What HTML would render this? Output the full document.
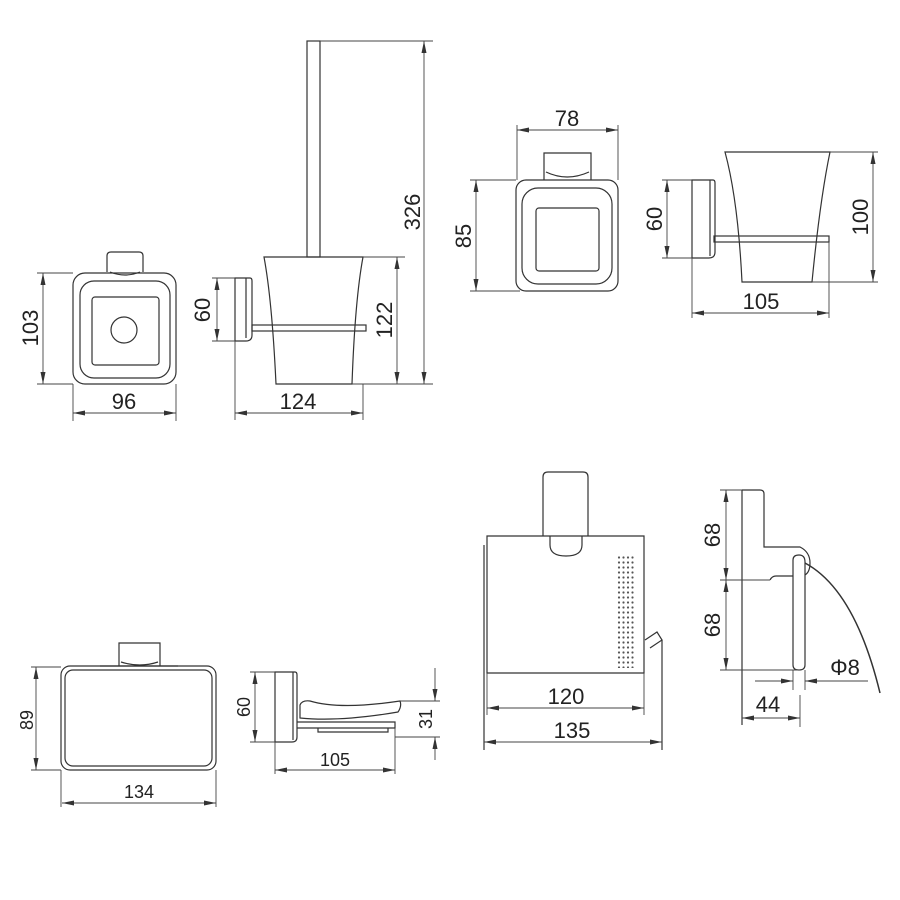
<!DOCTYPE html>
<html><head><meta charset="utf-8"><style>
html,body{margin:0;padding:0;background:#fff;}
svg{display:block;}
text{font-family:"Liberation Sans",sans-serif;fill:#222;}
</style></head><body>
<svg width="900" height="900" viewBox="0 0 900 900" xmlns="http://www.w3.org/2000/svg">
<defs>
<marker id="a" viewBox="0 0 12 6" refX="12" refY="3" markerWidth="12" markerHeight="6" markerUnits="userSpaceOnUse" orient="auto-start-reverse"><path d="M0,0.5 L12,3 L0,5.5 z" fill="#333"/></marker>
<pattern id="dots" x="617" y="555" width="4.5" height="5" patternUnits="userSpaceOnUse"><circle cx="2" cy="2.5" r="1.1" fill="#555"/></pattern>
</defs>
<g fill="none" stroke="#333" stroke-width="1.2">
<path d="M107,272 V256 Q107,252 111,252 H139 Q143,252 143,256 V272"/>
<path d="M110,272 Q125,278 140,272"/>
<rect x="73" y="273" width="103" height="111" rx="12"/>
<rect x="80" y="281" width="90" height="97" rx="14"/>
<rect x="92" y="297" width="67" height="68" rx="3"/>
<circle cx="124" cy="330" r="13"/>
<rect x="307" y="41" width="13" height="216"/>
<path d="M264,257 H363 Q355,300 352,384 H276 Q272,300 264,257 Z"/>
<rect x="252" y="325" width="114" height="6"/>
<path d="M235,278 H250 Q252,278 252,281 V335 Q252,341 246,341 H235 Z"/>
<line x1="246" y1="278" x2="246" y2="338"/>
</g>
<g fill="none" stroke="#444" stroke-width="0.9">
<line x1="37" y1="273" x2="73" y2="273"/><line x1="37" y1="384" x2="73" y2="384"/>
<line x1="43" y1="273" x2="43" y2="384" marker-start="url(#a)" marker-end="url(#a)"/>
<line x1="73" y1="384" x2="73" y2="421"/><line x1="176" y1="384" x2="176" y2="421"/>
<line x1="73" y1="413" x2="176" y2="413" marker-start="url(#a)" marker-end="url(#a)"/>
<line x1="212" y1="278" x2="235" y2="278"/><line x1="212" y1="341" x2="235" y2="341"/>
<line x1="217" y1="278" x2="217" y2="341" marker-start="url(#a)" marker-end="url(#a)"/>
<line x1="235" y1="341" x2="235" y2="420"/><line x1="363" y1="384" x2="363" y2="420"/>
<line x1="235" y1="413" x2="363" y2="413" marker-start="url(#a)" marker-end="url(#a)"/>
<line x1="363" y1="257" x2="405" y2="257"/><line x1="320" y1="41" x2="433" y2="41"/>
<line x1="352" y1="384" x2="433" y2="384"/>
<line x1="397" y1="257" x2="397" y2="384" marker-start="url(#a)" marker-end="url(#a)"/>
<line x1="424" y1="41" x2="424" y2="384" marker-start="url(#a)" marker-end="url(#a)"/>
</g>
<g font-size="22" text-anchor="middle">
<text x="124" y="409">96</text>
<text x="298" y="409">124</text>
<text transform="translate(38,328) rotate(-90)">103</text>
<text transform="translate(210,310) rotate(-90)">60</text>
<text transform="translate(392,320) rotate(-90)">122</text>
<text transform="translate(420,212) rotate(-90)">326</text>
</g>

<g fill="none" stroke="#333" stroke-width="1.2">
<path d="M544,180 V153 H591 V180"/>
<path d="M546,172 Q567,182 589,172"/>
<rect x="516" y="180" width="102" height="111" rx="10"/>
<rect x="522" y="188" width="90" height="96" rx="16"/>
<rect x="536" y="208" width="63" height="63" rx="3"/>
<path d="M725,152 H830 Q820,200 812,282 H742 Q738,200 725,152 Z"/>
<rect x="714" y="236" width="115" height="6"/>
<path d="M692,180 H713 Q715,180 715,183 V252 Q715,258 709,258 H692 Z"/>
<line x1="710" y1="180" x2="710" y2="256"/>
</g>
<g fill="none" stroke="#444" stroke-width="0.9">
<line x1="517" y1="125" x2="517" y2="180"/><line x1="618" y1="125" x2="618" y2="180"/>
<line x1="517" y1="130" x2="618" y2="130" marker-start="url(#a)" marker-end="url(#a)"/>
<line x1="470" y1="180" x2="516" y2="180"/><line x1="470" y1="291" x2="520" y2="291"/>
<line x1="476" y1="180" x2="476" y2="291" marker-start="url(#a)" marker-end="url(#a)"/>
<line x1="662" y1="180" x2="692" y2="180"/><line x1="662" y1="258" x2="692" y2="258"/>
<line x1="667" y1="180" x2="667" y2="258" marker-start="url(#a)" marker-end="url(#a)"/>
<line x1="830" y1="152" x2="878" y2="152"/><line x1="812" y1="282" x2="878" y2="282"/>
<line x1="873" y1="152" x2="873" y2="282" marker-start="url(#a)" marker-end="url(#a)"/>
<line x1="692" y1="258" x2="692" y2="318"/><line x1="829" y1="242" x2="829" y2="318"/>
<line x1="692" y1="313" x2="829" y2="313" marker-start="url(#a)" marker-end="url(#a)"/>
</g>
<g font-size="22" text-anchor="middle">
<text x="567" y="126">78</text>
<text x="761" y="309">105</text>
<text transform="translate(471,236) rotate(-90)">85</text>
<text transform="translate(662,219) rotate(-90)">60</text>
<text transform="translate(868,217) rotate(-90)">100</text>
</g>

<g fill="none" stroke="#333" stroke-width="1.2">
<path d="M543,536 V477 Q543,472 548,472 H583 Q588,472 588,477 V536"/>
<path d="M487,673 V536 H644 V673 Z"/>
<path d="M550,536 V545 Q550,556 566,556 Q582,556 582,545 V536"/>
<line x1="484" y1="545" x2="484" y2="750"/>
<path d="M645,640 L657,632 L662,640 L650,648"/>
<line x1="662" y1="640" x2="662" y2="750"/>
<line x1="742" y1="490" x2="742" y2="725"/>
<path d="M742,490 H760 Q764,490 764,494 V547 H800 Q810,552 810,563 Q810,572 805,575"/>
<path d="M770,580 Q772,576 776,576 H793"/>
<path d="M793,560 Q793,555 799,555 Q805,555 805,562 V665 Q805,670 799,670 Q793,670 793,665 Z"/>
<path d="M805,563 Q855,590 880,693" stroke-width="1.5"/>
</g>
<rect x="617" y="555" width="18" height="113" fill="url(#dots)"/>
<g fill="none" stroke="#444" stroke-width="0.9">
<line x1="487" y1="673" x2="487" y2="715"/><line x1="644" y1="673" x2="644" y2="715"/>
<line x1="487" y1="708" x2="644" y2="708" marker-start="url(#a)" marker-end="url(#a)"/>
<line x1="484" y1="742" x2="662" y2="742" marker-start="url(#a)" marker-end="url(#a)"/>
<line x1="720" y1="490" x2="742" y2="490"/><line x1="720" y1="580" x2="770" y2="580"/><line x1="720" y1="670" x2="800" y2="670"/>
<line x1="726" y1="490" x2="726" y2="580" marker-start="url(#a)" marker-end="url(#a)"/>
<line x1="726" y1="580" x2="726" y2="670" marker-start="url(#a)" marker-end="url(#a)"/>
<line x1="793" y1="670" x2="793" y2="690"/><line x1="805" y1="670" x2="805" y2="690"/>
<line x1="755" y1="681" x2="793" y2="681" marker-end="url(#a)"/>
<line x1="868" y1="681" x2="805" y2="681" marker-end="url(#a)"/>
<line x1="800" y1="695" x2="800" y2="727"/>
<line x1="742" y1="718" x2="800" y2="718" marker-start="url(#a)" marker-end="url(#a)"/>
</g>
<g font-size="22" text-anchor="middle">
<text x="566" y="704">120</text>
<text x="572" y="738">135</text>
<text x="768" y="712">44</text>
<text x="845" y="675">Φ8</text>
<text transform="translate(720,535) rotate(-90)">68</text>
<text transform="translate(720,625) rotate(-90)">68</text>
</g>

<g fill="none" stroke="#333" stroke-width="1.2">
<path d="M119,666 V643 H160 V666"/>
<path d="M121,662 Q140,668 158,662"/>
<path d="M100,666 H178"/>
<rect x="61" y="666" width="155" height="104" rx="9"/>
<rect x="65" y="670" width="147" height="96" rx="8"/>
<path d="M275,672 H295 Q297,672 297,675 V737 Q297,742 292,742 H275 Z"/>
<line x1="293" y1="672" x2="293" y2="740"/>
<path d="M300,705 Q302,700 310,701 Q340,710 400,701 Q402,706 398,712 Q340,722 300,718 Z"/>
<path d="M297,722 H395 V728 H297"/>
<path d="M318,728 V732 H388 V728"/>
</g>
<g fill="none" stroke="#444" stroke-width="0.9">
<line x1="31" y1="667" x2="61" y2="667"/><line x1="31" y1="770" x2="61" y2="770"/>
<line x1="36" y1="667" x2="36" y2="770" marker-start="url(#a)" marker-end="url(#a)"/>
<line x1="61" y1="770" x2="61" y2="807"/><line x1="216" y1="770" x2="216" y2="807"/>
<line x1="62" y1="803" x2="216" y2="803" marker-start="url(#a)" marker-end="url(#a)"/>
<line x1="250" y1="672" x2="275" y2="672"/><line x1="250" y1="742" x2="275" y2="742"/>
<line x1="255" y1="672" x2="255" y2="742" marker-start="url(#a)" marker-end="url(#a)"/>
<line x1="275" y1="742" x2="275" y2="774"/><line x1="395" y1="728" x2="395" y2="774"/>
<line x1="275" y1="770" x2="395" y2="770" marker-start="url(#a)" marker-end="url(#a)"/>
<line x1="400" y1="701" x2="440" y2="701"/><line x1="395" y1="737" x2="440" y2="737"/>
<line x1="435" y1="668" x2="435" y2="701" marker-end="url(#a)"/>
<line x1="435" y1="760" x2="435" y2="737" marker-end="url(#a)"/>
</g>
<g font-size="18" text-anchor="middle">
<text x="139" y="798">134</text>
<text x="335" y="766">105</text>
<text transform="translate(33,720) rotate(-90)">89</text>
<text transform="translate(250,707) rotate(-90)">60</text>
<text transform="translate(432,719) rotate(-90)">31</text>
</g>
</svg>
</body></html>
